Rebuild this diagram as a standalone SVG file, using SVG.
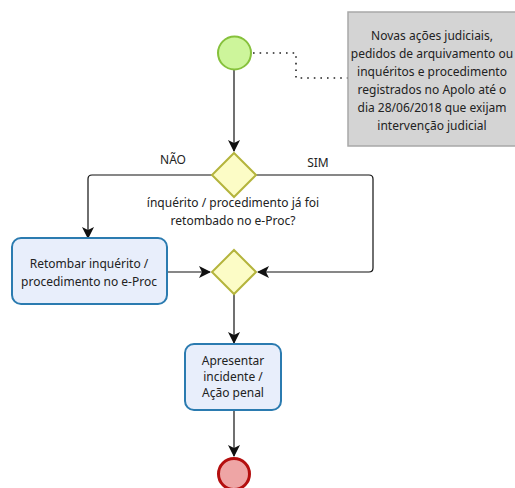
<svg xmlns="http://www.w3.org/2000/svg" width="515" height="488" viewBox="0 0 515 488">
<defs>
<marker id="arr" viewBox="0 0 12 12" refX="11" refY="6" markerWidth="12" markerHeight="12" markerUnits="userSpaceOnUse" orient="auto">
<path d="M0,0 L12,6 L0,12 L3,6 Z" fill="#111"/>
</marker>
</defs>
<style>
text{font-family:"Noto Sans","Open Sans",sans-serif;font-size:12px;fill:#222;text-anchor:middle}
.task{fill:#e8eefb;stroke:#2b7bb0;stroke-width:2}
.gw{fill:#fcfcc6;stroke:#b4b43c;stroke-width:2}
.flow{fill:none;stroke:#111;stroke-width:1.2}
</style>
<g id="connectors">
<path class="flow" d="M234,70 V151" marker-end="url(#arr)"/>
<path class="flow" d="M212,175 H92 Q88,175 88,179 V238" marker-end="url(#arr)"/>
<path class="flow" d="M256,175 H369 Q373,175 373,179 V268 Q373,272 369,272 H258" marker-end="url(#arr)"/>
<path class="flow" d="M167,272 H210" marker-end="url(#arr)"/>
<path class="flow" d="M234,294 V343" marker-end="url(#arr)"/>
<path class="flow" d="M234,410 V456" marker-end="url(#arr)"/>
<path d="M253,53 H296 V78 H348" fill="none" stroke="#222" stroke-width="1.6" stroke-dasharray="1.6,5"/>
</g>
<g id="note">
<rect x="348" y="12" width="180" height="134" fill="#d4d4d4" stroke="#a8a8a8" stroke-width="1.5"/>
<text x="432" y="40">Novas ações judiciais,</text>
<text x="432" y="58">pedidos de arquivamento ou</text>
<text x="432" y="76">inquéritos e procedimento</text>
<text x="432" y="94">registrados no Apolo até o</text>
<text x="432" y="112">dia 28/06/2018 que exijam</text>
<text x="432" y="130">intervenção judicial</text>
</g>
<g id="start">
<circle cx="234.5" cy="53" r="16.5" fill="#cdf59b" stroke="#86c13c" stroke-width="2"/>
</g>
<g id="gateway1">
<polygon class="gw" points="234,153 256,175 234,197 212,175"/>
<text x="233" y="207">ínquérito / procedimento já foi</text>
<text x="233" y="225">retombado no e-Proc?</text>
</g>
<text x="173" y="164">NÃO</text>
<text x="318" y="167">SIM</text>
<g id="task1">
<rect class="task" x="12" y="238" width="155" height="66" rx="9"/>
<text x="89" y="268">Retombar inquérito /</text>
<text x="89" y="286">procedimento no e-Proc</text>
</g>
<g id="gateway2">
<polygon class="gw" points="234,250 256,272 234,294 212,272"/>
</g>
<g id="task2">
<rect class="task" x="185" y="344" width="96" height="66" rx="9"/>
<text x="233" y="365">Apresentar</text>
<text x="233" y="381">incidente /</text>
<text x="233" y="397">Ação penal</text>
</g>
<g id="end">
<circle cx="234" cy="474" r="15.5" fill="#eea5a5" stroke="#b40f0f" stroke-width="3"/>
</g>
</svg>
